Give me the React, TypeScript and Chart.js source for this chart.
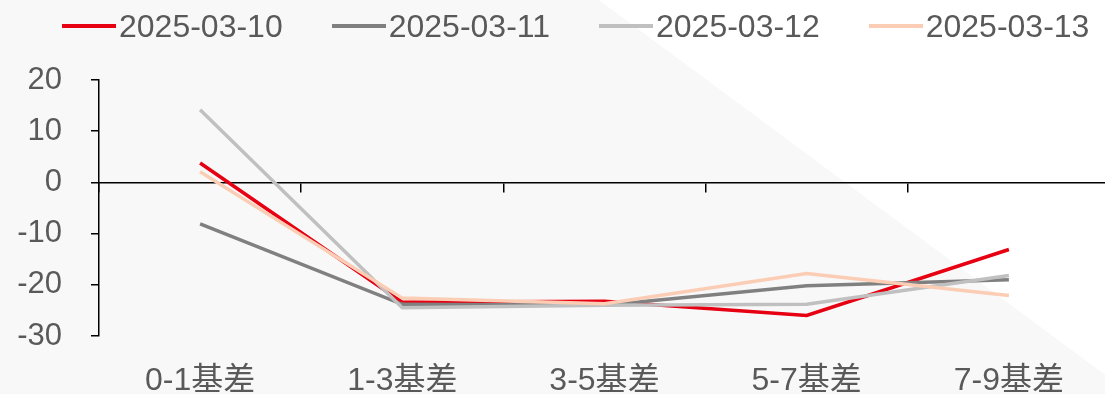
import React, { useEffect, useRef } from "react";
import { Chart, registerables } from "chart.js";

Chart.register(...registerables);

const categories = ["0-1基差", "1-3基差", "3-5基差", "5-7基差", "7-9基差"];
const seriesNames = ["2025-03-10", "2025-03-11", "2025-03-12", "2025-03-13"];
const s0310 = [3.8, -23.4, -23.2, -26.0, -13.1];
const s0311 = [-8.1, -23.8, -24.0, -20.2, -19.0];
const s0312 = [14.2, -24.5, -24.0, -23.8, -18.2];
const s0313 = [2.1, -22.6, -23.7, -17.8, -22.1];
const seriesColors = ["#E60012", "#808080", "#C0C0C0", "#FBCDB5"];
const yTicks = [-30, -20, -10, 0, 10, 20];

const FONT = "'Liberation Sans', Arial, 'Noto Sans CJK SC', sans-serif";
const TEXT = "#595959";

export default function App() {
  const ref = useRef<HTMLCanvasElement | null>(null);

  useEffect(() => {
    if (!ref.current) return;
    const values = [s0310, s0311, s0312, s0313];
    const chart = new Chart(ref.current, {
      type: "line",
      data: {
        labels: categories,
        datasets: seriesNames.map((name, i) => ({
          label: name,
          data: values[i],
          borderColor: seriesColors[i],
          backgroundColor: seriesColors[i],
          borderWidth: 3.5,
          pointRadius: 0,
          tension: 0,
          order: seriesNames.length - i,
          xAxisID: "x",
          yAxisID: "y",
        })),
      },
      options: {
        responsive: false,
        animation: false,
        layout: { padding: { top: 80, right: 10, left: 0, bottom: 0 } },
        plugins: { legend: { display: false }, tooltip: { enabled: false } },
        scales: {
          x: {
            type: "category",
            offset: true,
            position: "bottom",
            grid: { display: false, drawTicks: false },
            border: { display: false },
            ticks: {
              color: TEXT,
              font: { family: FONT, size: 32 },
              padding: 26,
              maxRotation: 0,
              autoSkip: false,
            },
            afterFit: (s: any) => {
              s.height = 58;
            },
          },
          x2: {
            type: "category",
            axis: "x",
            offset: true,
            position: { y: 0 },
            grid: {
              display: true,
              offset: true,
              drawOnChartArea: false,
              drawTicks: true,
              tickLength: 9,
              color: "#000000",
              lineWidth: 1.5,
            },
            border: { display: true, color: "#000000", width: 1.5 },
            ticks: { display: false },
          },
          y: {
            type: "linear",
            min: -30,
            max: 20,
            afterBuildTicks: (s: any) => {
              s.ticks = yTicks.map((v) => ({ value: v }));
            },
            grid: {
              display: true,
              drawOnChartArea: false,
              drawTicks: true,
              tickLength: 8,
              color: "#000000",
              lineWidth: 1.5,
            },
            border: { display: true, color: "#000000", width: 1.5 },
            ticks: {
              color: TEXT,
              font: { family: FONT, size: 31 },
              padding: 29,
            },
            afterFit: (s: any) => {
              s.width = 99;
            },
          },
        },
      } as any,
    });
    return () => chart.destroy();
  }, []);

  return (
    <div
      style={{
        position: "fixed",
        left: 0,
        top: 0,
        width: 1105,
        height: 394,
        overflow: "hidden",
        background: "#ffffff",
        fontFamily: FONT,
      }}
    >
      <div
        style={{
          position: "absolute",
          left: 0,
          top: 0,
          width: 1105,
          height: 394,
          background: "#F8F8F8",
          clipPath: "polygon(0 0, 599px 0, 1131px 394px, 0 394px)",
        }}
      />
      <canvas
        ref={ref}
        width={1120}
        height={394}
        style={{ position: "absolute", left: 0, top: 0, width: 1120, height: 394 }}
      />
      <div
        style={{
          position: "absolute",
          left: 62,
          top: 6,
          display: "flex",
          alignItems: "center",
          gap: 49,
          height: 40,
        }}
      >
        {seriesNames.map((name, i) => (
          <div key={name} style={{ display: "flex", alignItems: "center" }}>
            <div
              style={{
                width: 54,
                height: 4,
                background: seriesColors[i],
                marginRight: 3,
              }}
            />
            <span style={{ fontSize: 32, color: TEXT, lineHeight: "40px" }}>{name}</span>
          </div>
        ))}
      </div>
    </div>
  );
}
